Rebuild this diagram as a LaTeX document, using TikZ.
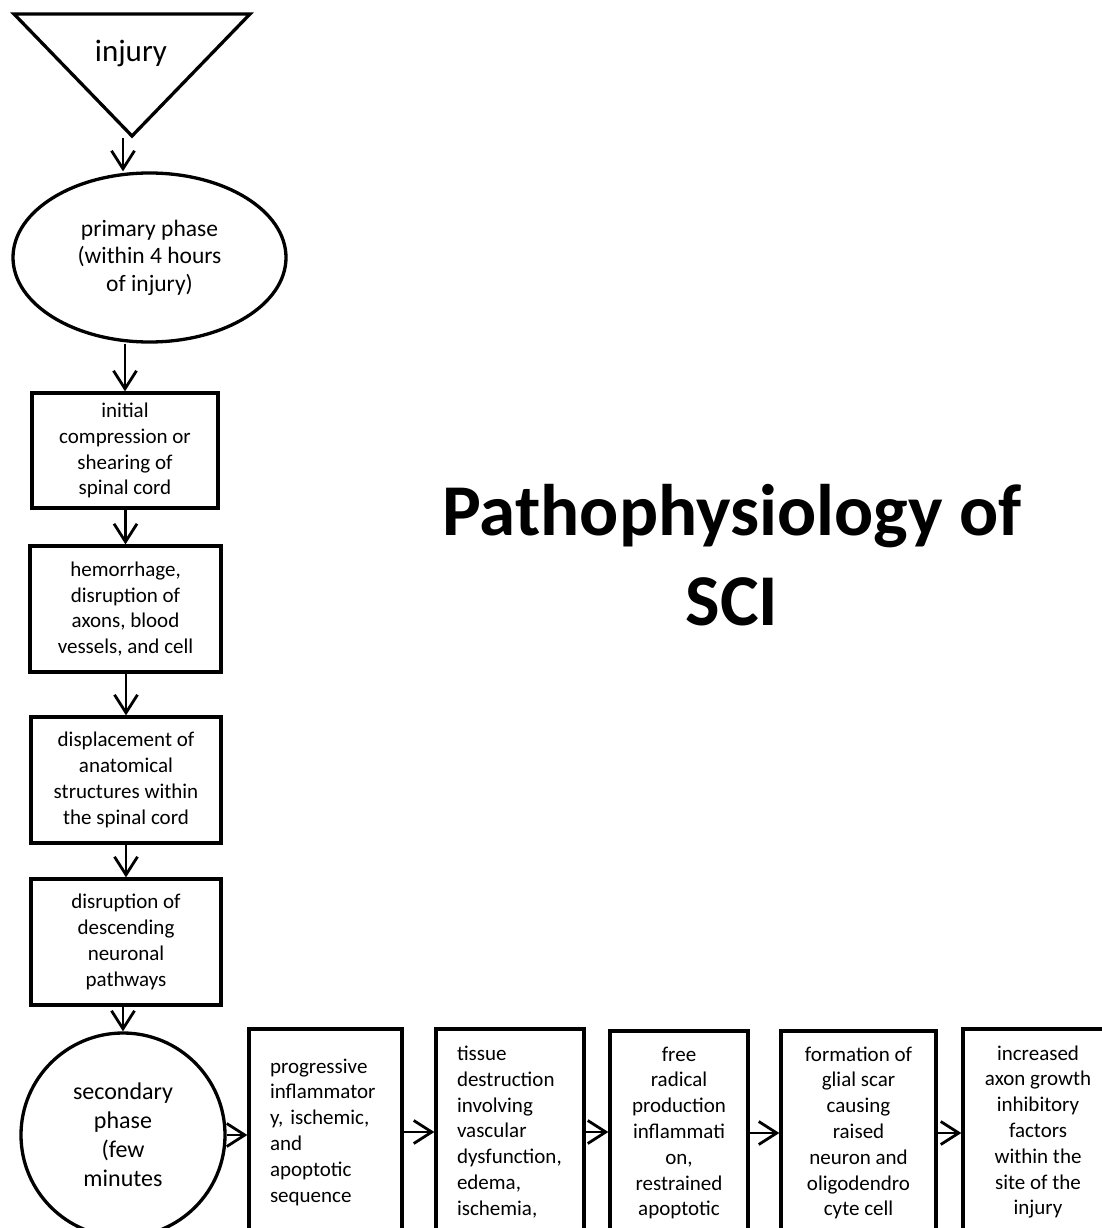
\documentclass[tikz,border=0pt]{standalone}
\usepackage{fontspec}
\setmainfont{Carlito}
\usetikzlibrary{arrows.meta,shapes.geometric}
\begin{document}
\begin{tikzpicture}[x=1pt,y=-1pt,
  txt/.style={font=\fontsize{21}{25.8}\selectfont},
  box/.style={draw, line width=3.3pt, inner sep=0pt, align=center, txt},
  lbox/.style={box, align=left},
  arr/.style={line width=2.8pt, -{Straight Barb[length=18pt,width=23pt]}}]
\useasboundingbox (0,0) rectangle (1101,1228);

% injury triangle
\draw[line width=3.3pt, line join=miter] (14,14) -- (250,14) -- (132,136) -- cycle;
\node[font=\fontsize{31}{36}\selectfont, anchor=base, inner sep=0pt] (inj) at (131,62) {injury};
\coordinate (tip) at (123,138);

% primary phase
\node[draw, ellipse, line width=3.3pt, inner sep=0pt, minimum width=273pt, minimum height=169pt,
      align=center, font=\fontsize{23.5}{27.5}\selectfont] (e1) at (149.5,257.5)
      {primary phase\\(within 4 hours\\of injury)};

\node[box, minimum width=186pt, minimum height=115pt] (b1) at (125,450.5)
      {initial\\compression or\\shearing of\\spinal cord};
\node[box, minimum width=191pt, minimum height=126pt] (b2) at (125.5,609)
      {hemorrhage,\\disruption of\\axons, blood\\vessels, and cell};
\node[box, minimum width=190pt, minimum height=126pt] (b3) at (126,780)
      {displacement of\\anatomical\\structures within\\the spinal cord};
\node[box, minimum width=190pt, minimum height=126pt] (b4) at (126,942)
      {disruption of\\descending\\neuronal\\pathways};

% secondary phase
\node[draw, circle, line width=3.3pt, inner sep=0pt, minimum size=204pt,
      align=center, font=\fontsize{24}{29}\selectfont] (c1) at (123,1135)
      {secondary\\phase\\(few\\minutes};

\node[lbox, minimum width=153pt, minimum height=206pt, text width=111pt] (b5) at (325.5,1132)
      {progressive\\inflammator\\y, ischemic,\\and\\apoptotic\\sequence};
\node[lbox, minimum width=148pt, minimum height=206pt, text width=106pt] (b6) at (510,1132)
      {tissue\\destruction\\involving\\vascular\\dysfunction,\\edema,\\ischemia,};
\node[box, minimum width=138pt, minimum height=204pt] (b7) at (679,1133)
      {free\\radical\\production\\inflammati\\on,\\restrained\\apoptotic};
\node[box, minimum width=155pt, minimum height=204pt] (b8) at (858.5,1133)
      {formation of\\glial scar\\causing\\raised\\neuron and\\oligodendro\\cyte cell};
\node[box, minimum width=150pt, minimum height=206pt] (b9) at (1038,1132)
      {increased\\axon growth\\inhibitory\\factors\\within the\\site of the\\injury};

% title
\node[font=\bfseries\fontsize{73}{90}\selectfont, align=center, anchor=base, inner sep=0pt] (title)
      at (732,625) {Pathophysiology of\\SCI};

% connectors
\draw[arr] (tip) -- (tip |- e1.north);
\draw[arr] (b1.north |- e1.south) -- (b1.north);
\draw[arr] (b2.north |- b1.south) -- (b2.north);
\draw[arr] (b3.north |- b2.south) -- (b3.north);
\draw[arr] (b4.north |- b3.south) -- (b4.north);
\draw[arr] (c1.north |- b4.south) -- (c1.north);
\draw[arr] (c1.east) -- (c1.east -| b5.west);
\draw[arr] (b5.east) -- (b6.west);
\draw[arr] (b6.east) -- (b6.east -| b7.west);
\draw[arr] (b7.east) -- (b8.west);
\draw[arr] (b8.east) -- (b8.east -| b9.west);
\end{tikzpicture}
\end{document}
